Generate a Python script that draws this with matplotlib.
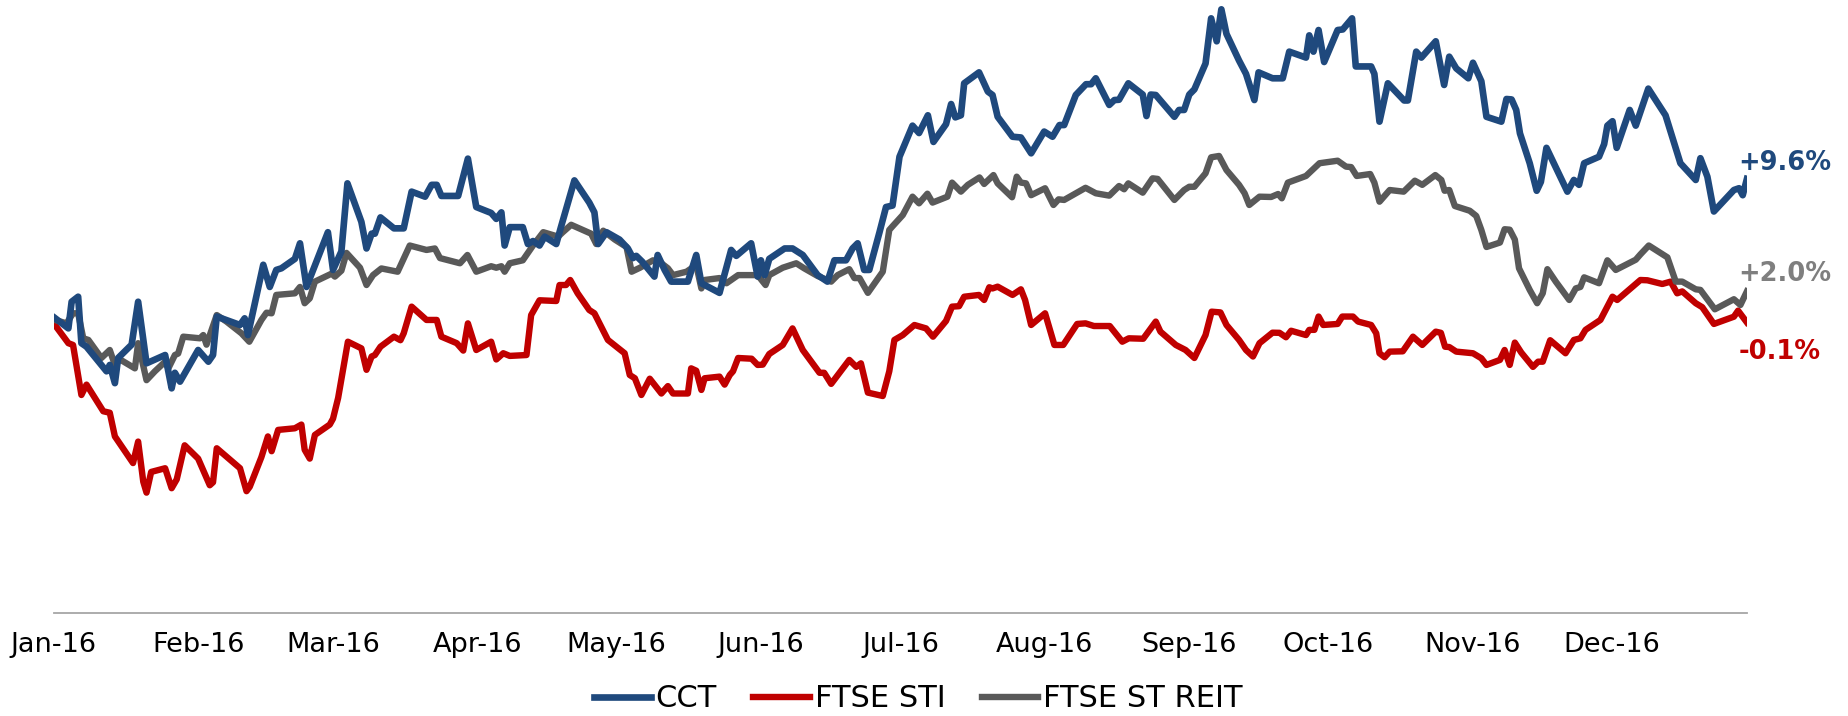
import pandas as pd
import numpy as np
import matplotlib
matplotlib.use("Agg")
import matplotlib.pyplot as plt

# performance in 2016, % change since the start of the year
# x values are days after 1 Jan 2016
cct_days = [0.2, 3.1, 3.8, 5.2, 5.9, 7.0, 11.3, 12.0, 13.1, 13.8, 16.7, 18.1, 19.9, 23.9, 25.3, 26.0, 27.1,
            31.0, 33.2, 34.2, 35.0, 40.0, 41.0, 41.7, 45.0, 46.4, 47.8, 48.9, 51.8, 52.9, 54.3, 58.9, 60.0,
            61.8, 63.1, 66.1, 67.2, 68.3, 69.0, 70.2, 73.1, 75.2, 76.9, 79.8, 81.2, 82.3, 83.3, 86.9, 89.0,
            90.8, 94.0, 95.1, 96.2, 96.9, 98.0, 100.8, 101.9, 103.0, 104.4, 105.5, 108.0, 109.0, 111.9,
            115.1, 116.2, 117.0, 118.8, 121.6, 123.4, 124.5, 125.2, 126.5, 129.1, 129.8, 131.3, 132.7,
            136.3, 138.1, 139.2, 143.1, 145.6, 146.7, 149.9, 151.3, 152.0, 152.8, 153.8, 157.1, 158.8,
            161.0, 164.2, 166.3, 167.8, 170.3, 171.7, 172.8, 174.2, 175.3, 177.5, 178.9, 180.3, 181.8,
            184.6, 186.0, 187.9, 189.1, 191.8, 192.9, 193.8, 195.0, 195.7, 198.9, 200.8, 201.8, 202.9,
            206.1, 207.9, 210.1, 212.9, 214.7, 216.2, 217.2, 219.7, 221.9, 223.0, 224.0, 226.9, 228.0,
            229.0, 231.0, 234.1, 234.9, 235.8, 236.9, 240.9, 241.9, 243.0, 244.1, 245.2, 247.6, 248.8,
            250.0, 251.0, 252.1, 254.8, 256.3, 258.1, 259.0, 262.0, 264.2, 265.6, 269.2, 269.9, 270.8,
            271.9, 273.1, 276.0, 277.1, 279.1, 279.9, 283.2, 283.9, 285.0, 286.8, 290.3, 291.1, 292.9,
            294.0, 297.1, 298.9, 300.0, 301.5, 304.1, 305.1, 306.9, 308.0, 311.2, 312.3, 313.4, 314.4,
            315.2, 317.3, 318.8, 319.7, 320.9, 325.4, 326.8, 327.9, 329.0, 332.2, 333.3, 334.0, 335.1,
            336.0, 338.8, 340.1, 342.8, 346.5, 349.7, 353.0, 354.0, 355.5, 356.9, 361.2, 362.3, 363.1,
            364.0]
cct_pct = [0.2, -0.5, 1.3, 1.64, -1.5, -1.74, -3.4, -2.97, -4.2, -2.5, -1.6, 1.3, -2.86, -2.3, -4.55, -3.5, -4.1,
           -1.96, -2.75, -2.3, 0.3, -0.27, 0.18, -0.95, 3.8, 2.3, 3.45, 3.56, 4.2, 5.25, 2.3, 6.0, 3.45,
           4.7, 9.3, 6.7, 4.9, 5.9, 5.9, 7.0, 6.26, 6.26, 8.74, 8.4, 9.2, 9.2, 8.45, 8.45, 10.97,
           7.7, 7.3, 6.9, 7.34, 5.1, 6.34, 6.34, 5.2, 5.4, 5.1, 5.7, 5.2, 6.34, 9.5,
           8.0, 7.34, 5.2, 6.0, 5.5, 4.9, 4.25, 4.4, 4.0, 3.0, 4.46, 3.45, 2.66,
           2.66, 4.46, 2.55, 1.9, 4.8, 4.4, 5.25, 3.0, 4.1, 3.1, 4.2, 4.9, 4.9,
           4.46, 3.1, 2.66, 4.1, 4.1, 4.9, 5.25, 3.45, 3.45, 6.0, 7.7, 7.8, 11.1,
           13.2, 12.7, 13.9, 12.1, 13.3, 14.66, 13.76, 13.9, 16.06, 16.8, 15.5, 15.27, 13.8,
           12.45, 12.4, 11.33, 12.8, 12.45, 13.24, 13.24, 15.27, 16.0, 16.0, 16.4, 14.6, 14.93,
           14.95, 16.06, 15.3, 13.85, 15.3, 15.27, 13.8, 14.26, 14.26, 15.3, 15.65, 17.4, 20.45,
           18.9, 21.06, 19.4, 17.6, 16.7, 14.93, 16.8, 16.4, 16.4, 18.2, 17.8, 19.3, 18.2,
           19.66, 17.5, 19.66, 19.7, 20.45, 17.2, 17.2, 16.7, 13.47, 16.06, 14.9, 14.9, 18.2,
           17.8, 18.9, 15.95, 17.86, 17.07, 16.4, 17.45, 16.2, 13.8, 13.47, 15.0, 14.97, 14.26,
           12.68, 10.66, 8.8, 9.4, 11.7, 8.74, 9.53, 9.2, 10.66, 11.1, 11.95, 13.2, 13.5,
           11.7, 14.26, 13.2, 15.7, 13.9, 10.66, 9.53, 11.0, 9.75, 7.4, 8.85, 8.97, 8.5,
           9.6]

sti_days = [0.2, 3.1, 4.1, 5.9, 7.0, 10.6, 12.0, 13.1, 17.0, 18.1, 19.2, 19.9, 20.9, 23.9, 25.3, 26.4, 28.1,
            31.0, 33.5, 34.2, 35.0, 40.0, 41.4, 42.1, 44.6, 46.0, 46.8, 48.2, 51.8, 53.2, 53.9, 55.0, 56.1,
            59.3, 60.0, 61.1, 63.2, 66.1, 67.2, 68.3, 69.0, 70.2, 73.1, 74.5, 75.2, 76.9, 80.1, 82.3, 83.3,
            86.6, 88.0, 89.0, 90.8, 94.0, 95.1, 96.6, 98.0, 101.6, 102.6, 104.4, 108.0, 108.7, 110.1,
            111.0, 112.6, 115.1, 116.2, 119.1, 122.7, 123.8, 124.9, 126.3, 128.1, 130.6, 132.0, 133.1,
            136.3, 137.0, 138.1, 139.2, 139.9, 143.1, 144.2, 145.3, 146.0, 147.1, 150.0, 151.3, 152.4,
            153.8, 156.7, 158.8, 161.0, 164.6, 165.6, 167.1, 171.0, 172.5, 173.5, 175.0, 178.2, 179.6,
            180.7, 182.5, 185.0, 187.5, 189.0, 191.8, 193.1, 194.6, 195.7, 198.9, 200.0, 201.1, 201.8,
            202.9, 206.1, 207.9, 208.8, 210.1, 213.1, 215.1, 217.0, 220.0, 221.8, 223.6, 227.0, 229.7,
            231.1, 234.2, 236.9, 237.9, 241.2, 243.3, 245.2, 247.6, 248.9, 250.8, 252.1, 254.8, 256.3,
            257.8, 259.2, 262.0, 263.5, 264.9, 266.0, 269.2, 269.9, 271.0, 271.9, 272.9, 276.0, 277.0,
            279.3, 280.4, 283.2, 284.3, 285.0, 286.1, 287.2, 290.0, 292.2, 294.2, 297.1, 298.2, 299.1,
            300.0, 301.5, 305.1, 306.9, 308.0, 310.9, 311.9, 313.0, 314.1, 315.5, 318.0, 319.1, 320.1,
            321.7, 325.0, 326.8, 328.2, 329.3, 332.5, 335.1, 336.1, 341.1, 342.6, 345.8, 347.6, 349.0,
            350.1, 353.0, 354.4, 356.9, 361.2, 362.1, 364.0]
sti_pct = [-0.27, -1.5, -1.62, -5.0, -4.3, -6.1, -6.2, -7.8, -9.6, -8.15, -10.86, -11.6, -10.2, -9.95, -11.3, -10.7, -8.4,
           -9.3, -11.1, -10.9, -8.6, -9.95, -11.5, -11.2, -9.2, -7.8, -8.8, -7.36, -7.25, -7.0, -8.7, -9.3, -7.7,
           -7.0, -6.6, -5.2, -1.4, -1.85, -3.3, -2.4, -2.3, -1.74, -1.06, -1.3, -0.83, 0.97, 0.07, 0.07, -1.06,
           -1.5, -2.0, -0.16, -1.96, -1.4, -2.6, -2.18, -2.36, -2.3, 0.4, 1.4, 1.35, 2.43, 2.43,
           2.77, 1.87, 0.74, 0.52, -1.28, -2.18, -3.65, -3.87, -5.0, -3.9, -4.9, -4.4, -4.9,
           -4.9, -3.2, -3.36, -4.66, -3.87, -3.76, -4.3, -3.65, -3.4, -2.5, -2.55, -2.97, -2.95,
           -2.23, -1.62, -0.5, -1.96, -3.5, -3.5, -4.25, -2.63, -3.1, -2.86, -4.84, -5.07, -3.4,
           -1.28, -0.95, -0.27, -0.5, -1.06, 0.0, 0.97, 1.0, 1.64, 1.76, 1.42, 2.28, 2.2,
           2.32, 1.76, 2.14, 1.42, -0.27, 0.52, -1.62, -1.62, -0.2, -0.16, -0.34, -0.34, -1.4,
           -1.17, -1.2, -0.04, -0.72, -1.62, -1.96, -2.5, -0.95, 0.63, 0.58, -0.27, -1.28, -1.96,
           -2.4, -1.5, -0.79, -0.8, -1.1, -0.66, -0.95, -0.6, -0.6, 0.3, -0.27, -0.2, 0.3,
           0.3, -0.04, -0.27, -0.83, -2.18, -2.45, -2.07, -2.05, -1.06, -1.62, -0.72, -0.8, -1.74,
           -1.76, -2.07, -2.18, -2.52, -2.97, -2.63, -1.96, -2.97, -1.46, -2.14, -3.1, -2.75, -2.75,
           -1.3, -2.18, -1.28, -1.17, -0.6, 0.07, 1.64, 1.42, 2.77, 2.75, 2.5, 2.66, 1.87,
           2.0, 1.2, 0.93, -0.2, 0.29, 0.7, -0.1]

reit_days = [0.2, 2.7, 4.1, 5.2, 6.3, 7.4, 10.2, 12.0, 13.1, 14.2, 17.4, 18.1, 19.9, 21.7, 23.9, 24.6, 26.0,
             26.7, 27.8, 31.4, 32.1, 32.8, 35.0, 37.1, 40.3, 42.0, 44.6, 45.7, 46.8, 47.8, 51.8, 52.9, 53.9,
             55.0, 56.1, 59.7, 60.4, 61.8, 62.9, 65.8, 67.2, 68.6, 70.4, 73.9, 76.5, 80.1, 81.9, 83.0, 87.3,
             88.9, 90.8, 94.0, 95.1, 96.2, 96.9, 98.0, 100.8, 103.0, 105.2, 108.4, 109.4, 111.2, 115.5,
             116.6, 118.1, 120.6, 123.1, 124.2, 126.0, 128.8, 130.6, 132.0, 133.1, 136.0, 138.1, 139.2,
             139.9, 143.1, 144.6, 147.1, 151.3, 153.0, 153.8, 156.7, 159.6, 161.3, 164.2, 167.1, 168.5,
             171.0, 172.1, 173.2, 175.0, 178.2, 179.6, 180.3, 182.5, 184.6, 186.0, 187.8, 188.9, 192.1,
             193.1, 195.0, 196.5, 199.0, 200.0, 202.0, 202.9, 206.0, 207.0, 207.9, 209.0, 210.1, 213.1,
             214.9, 216.0, 217.2, 221.8, 224.0, 226.9, 229.0, 230.1, 231.0, 234.1, 236.2, 237.3, 240.9,
             243.0, 244.1, 245.2, 247.6, 248.8, 250.5, 252.1, 254.8, 256.0, 257.0, 259.2, 261.7, 263.2,
             264.0, 265.3, 269.2, 272.1, 276.0, 277.8, 278.9, 280.1, 283.0, 283.9, 285.0, 287.2, 290.2,
             292.6, 294.2, 297.0, 298.3, 299.0, 300.0, 301.2, 304.4, 305.8, 306.9, 308.0, 310.9, 311.9,
             313.0, 314.1, 315.0, 317.3, 318.9, 320.1, 321.1, 322.9, 325.8, 327.2, 328.2, 329.0, 332.2,
             334.0, 335.8, 340.1, 341.1, 342.9, 346.9, 348.7, 350.1, 353.0, 354.0, 357.1, 361.2, 362.6,
             364.0]
reit_pct = [0.07, -0.16, 0.52, 0.52, -1.17, -1.28, -2.5, -1.96, -2.97, -2.6, -3.2, -1.5, -4.0, -3.4, -2.75, -3.2, -2.3,
            -2.2, -1.06, -1.17, -0.95, -1.6, 0.4, -0.04, -0.83, -1.4, 0.07, 0.56, 0.52, 1.76, 1.87, 2.3, 1.2,
            1.53, 2.66, 3.2, 3.0, 3.4, 4.6, 3.6, 2.43, 3.1, 3.55, 3.33, 5.1, 4.8, 4.9, 4.25, 3.9,
            4.46, 3.33, 3.7, 3.6, 3.7, 3.33, 3.9, 4.1, 5.1, 6.0, 5.7, 6.0, 6.5, 5.9,
            5.2, 6.1, 5.5, 5.0, 3.33, 3.6, 4.1, 3.9, 3.56, 3.1, 3.33, 3.78, 2.2,
            2.77, 2.9, 2.55, 3.1, 3.1, 2.43, 3.1, 3.6, 3.9, 3.56, 3.04, 2.66, 3.1,
            3.5, 2.9, 2.9, 1.9, 3.33, 6.15, 6.4, 7.16, 8.4, 7.95, 8.6, 8.0, 8.4,
            9.35, 8.74, 9.2, 9.7, 9.26, 9.86, 9.3, 8.36, 9.75, 9.35, 9.3, 8.5, 8.97,
            7.84, 8.22, 8.18, 9.0, 8.63, 8.47, 9.12, 8.9, 9.3, 8.67, 9.64, 9.6, 8.18,
            8.85, 9.07, 9.07, 9.98, 11.06, 11.15, 10.2, 9.2, 8.63, 7.84, 8.4, 8.38, 8.58,
            8.29, 9.35, 9.8, 10.66, 10.83, 10.43, 10.4, 9.8, 9.93, 9.35, 8.06, 8.85, 8.74,
            9.48, 9.2, 9.86, 9.53, 8.8, 8.85, 7.77, 7.45, 7.1, 6.15, 5.0, 5.3, 6.2,
            6.17, 5.5, 3.56, 2.1, 1.2, 1.87, 3.5, 2.66, 1.42, 2.2, 2.3, 2.95, 2.55,
            4.1, 3.45, 4.14, 4.5, 5.1, 4.3, 2.66, 2.66, 2.14, 2.1, 0.79, 1.47, 1.08,
            2.0]

series_names = ["CCT", "FTSE STI", "FTSE ST REIT"]
end_labels = ["+9.6%", "-0.1%", "+2.0%"]

start = pd.Timestamp("2016-01-01")
end = pd.Timestamp("2016-12-30")
month_ticks = pd.date_range("2016-01-01", periods=12, freq="MS")


def to_dates(days):
    return start + pd.to_timedelta(np.array(days), unit="D")


blue = "#1F497D"
red = "#C00000"
grey = "#595959"

fig = plt.figure(figsize=(18.48, 7.16), dpi=100)
ax = fig.add_axes([0.0292, 0.1439, 0.9161, 0.8561])

l1, = ax.plot(to_dates(cct_days), cct_pct, color=blue, lw=4.8, solid_joinstyle="round", zorder=3)
l2, = ax.plot(to_dates(sti_days), sti_pct, color=red, lw=4.6, solid_joinstyle="round", zorder=2)
l3, = ax.plot(to_dates(reit_days), reit_pct, color=grey, lw=4.6, solid_joinstyle="round", zorder=2)

ax.set_xlim(start, end)
ax.set_ylim(-19.73, 21.69)

# end-of-year labels next to the last point of each line
ax.annotate(end_labels[0], xy=(to_dates(cct_days)[-1], cct_pct[-1]), xytext=(-9, 16),
            textcoords="offset pixels", ha="left", va="center", fontsize=18.5,
            fontweight="bold", color=blue, annotation_clip=False)
ax.annotate(end_labels[2], xy=(to_dates(reit_days)[-1], reit_pct[-1]), xytext=(-9, 17),
            textcoords="offset pixels", ha="left", va="center", fontsize=18.5,
            fontweight="bold", color="#7F7F7F", annotation_clip=False)
ax.annotate(end_labels[1], xy=(to_dates(sti_days)[-1], sti_pct[-1]), xytext=(-8, -30),
            textcoords="offset pixels", ha="left", va="center", fontsize=18.5,
            fontweight="bold", color=red, annotation_clip=False)

ax.set_xticks(month_ticks)
ax.set_xticklabels([d.strftime("%b-%y") for d in month_ticks])
ax.tick_params(axis="x", length=0, pad=14, labelsize=19.5, colors="black")
ax.set_yticks([])
for s in ["top", "left", "right"]:
    ax.spines[s].set_visible(False)
ax.spines["bottom"].set_color("#A6A6A6")
ax.spines["bottom"].set_linewidth(1.3)

fig.legend([l1, l2, l3], series_names, loc="center", bbox_to_anchor=(0.497, 0.024),
           ncol=3, frameon=False, fontsize=22, handlelength=1.85, handletextpad=0.15,
           columnspacing=1.2, borderpad=0)

fig.savefig("out.png", dpi=100)
